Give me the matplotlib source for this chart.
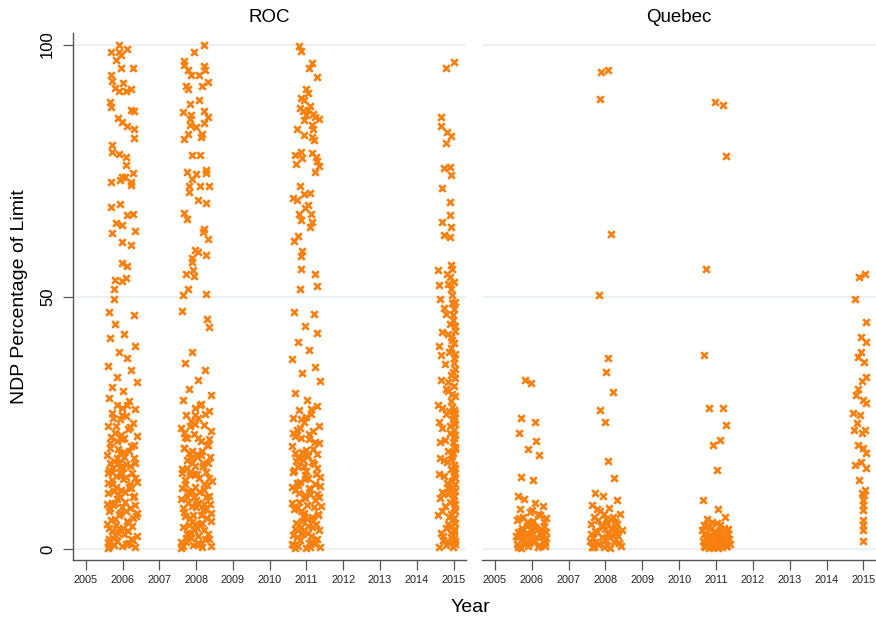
import matplotlib
matplotlib.use("Agg")
import matplotlib.pyplot as plt

plt.rcParams['font.family'] = ['Liberation Sans', 'DejaVu Sans']

# ---------------- data (year, NDP percentage of limit) ----------------

panel_names = ["ROC", "Quebec"]
year_ticks = [2005, 2006, 2007, 2008, 2009, 2010, 2011, 2012, 2013, 2014, 2015]
pct_ticks = [0, 50, 100]

roc_2006 = [
    (2005.90, 100.0), (2006.11, 99.1), (2005.68, 98.5), (2005.90, 98.5), (2005.95, 98.0),
    (2005.83, 96.9), (2005.95, 95.4), (2006.29, 95.4), (2005.68, 94.0), (2005.70, 92.7),
    (2006.02, 92.4), (2005.79, 91.4), (2005.90, 90.7), (2006.08, 90.7), (2006.22, 91.1),
    (2005.66, 88.7), (2005.68, 87.7), (2006.22, 87.1), (2006.31, 86.8), (2005.88, 85.4),
    (2005.97, 84.6), (2006.13, 83.8), (2006.31, 83.3), (2006.31, 81.4), (2005.72, 80.1),
    (2005.72, 78.8), (2005.90, 78.3), (2006.08, 77.8), (2006.10, 76.1), (2006.29, 74.6),
    (2005.68, 72.8), (2005.93, 73.2), (2005.97, 73.8), (2006.06, 73.7), (2006.22, 72.8),
    (2006.22, 72.2), (2005.68, 67.7), (2005.92, 68.4), (2006.13, 66.3), (2006.29, 66.5),
    (2005.81, 64.6), (2005.99, 64.2), (2005.70, 62.7), (2006.33, 63.1), (2005.99, 60.9),
    (2006.22, 60.3), (2005.99, 56.7), (2006.11, 56.1), (2005.79, 53.3), (2005.99, 53.1),
    (2006.09, 53.7), (2005.77, 51.6), (2005.77, 49.6),
    (2005.62, 47.0), (2006.30, 46.3), (2005.80, 44.5), (2006.05, 42.6), (2005.66, 41.8),
    (2006.35, 40.2), (2005.90, 39.0), (2006.12, 37.8), (2005.60, 36.2), (2006.24, 35.4),
    (2005.84, 34.1), (2006.38, 33.0), (2005.72, 32.2), (2006.00, 31.3), (2005.64, 30.0),
    (2006.18, 29.4), (2005.86, 28.6), (2006.34, 27.8), (2005.70, 27.0), (2006.08, 26.4),
    (2005.94, 25.7), (2006.28, 25.0), (2005.60, 24.3), (2006.14, 23.7), (2005.78, 23.0),
    (2006.40, 22.4), (2005.98, 21.8), (2005.66, 21.0), (2006.22, 20.5), (2005.88, 19.9),
    (2006.04, 19.2), (2005.58, 18.6), (2006.32, 18.0), (2005.76, 17.5), (2006.10, 16.9),
    (2005.92, 16.2), (2005.62, 15.6), (2006.26, 15.1), (2005.82, 14.5), (2006.02, 13.9),
    (2006.38, 13.3), (2005.70, 12.8), (2006.16, 12.2), (2005.96, 11.6), (2005.60, 11.0),
    (2006.30, 10.5), (2005.84, 9.9), (2006.06, 9.4), (2005.74, 8.8), (2006.20, 8.2),
    (2005.64, 7.6), (2005.94, 7.1), (2006.36, 6.6), (2005.80, 6.0), (2006.12, 5.5),
    (2005.58, 5.0), (2006.26, 4.5), (2005.90, 4.0), (2005.70, 3.5), (2006.04, 3.0),
    (2006.40, 2.5), (2005.62, 2.0), (2005.86, 1.6), (2006.18, 1.2), (2005.76, 0.8),
    (2006.34, 0.4), (2005.60, 0.2), (2005.98, 0.5), (2006.28, 1.8), (2005.68, 5.8),
    (2005.88, 10.8), (2006.10, 14.2), (2005.66, 17.0), (2005.96, 22.6), (2005.74, 26.0),
    (2006.24, 12.0), (2005.78, 2.8), (2006.08, 7.6), (2005.60, 13.0), (2005.92, 19.0),
    (2005.70, 9.2), (2006.14, 3.6), (2005.84, 21.4), (2006.00, 16.0), (2005.64, 4.2),
    (2005.82, 12.3), (2006.20, 24.2), (2005.98, 28.0), (2005.72, 15.3), (2006.34, 8.7),
    (2005.59, 1.4), (2005.73, 2.2), (2005.87, 3.2), (2006.01, 4.2), (2006.15, 5.2),
    (2006.29, 6.2), (2006.39, 7.2), (2005.65, 8.2), (2005.79, 9.2), (2005.93, 10.2),
    (2006.07, 11.2), (2006.21, 12.8), (2006.35, 14.0), (2005.61, 15.0), (2005.75, 16.0),
    (2005.89, 17.0), (2006.03, 18.2), (2006.17, 19.4), (2006.31, 20.6), (2005.69, 22.2),
    (2005.83, 24.4), (2005.97, 26.6), (2006.11, 28.6), (2005.63, 0.6), (2005.81, 4.8),
    (2005.99, 8.4), (2006.13, 1.0), (2006.27, 10.2), (2005.71, 13.6), (2005.85, 18.0),
    (2006.19, 16.4), (2005.95, 14.8), (2006.05, 22.0), (2005.67, 20.0), (2006.33, 17.0),
    (2005.91, 6.8), (2006.09, 0.9), (2005.77, 11.4), (2006.23, 2.0), (2005.57, 9.0),
]

roc_2008 = [
    (2008.22, 100.0), (2007.93, 98.5), (2007.66, 96.7), (2007.67, 96.0), (2007.78, 94.9),
    (2007.85, 94.0), (2008.08, 94.0), (2008.21, 95.7), (2008.24, 94.9), (2007.72, 91.8),
    (2007.77, 91.1), (2008.17, 91.8), (2008.31, 92.5), (2007.83, 88.3), (2008.08, 89.1),
    (2007.65, 86.6), (2007.86, 86.1), (2007.84, 85.3), (2008.22, 86.8), (2008.33, 85.7),
    (2007.84, 84.0), (2008.00, 83.6), (2008.22, 84.4), (2007.78, 82.2), (2007.67, 81.3),
    (2008.15, 82.3), (2008.13, 81.6), (2007.88, 78.1), (2008.10, 78.1), (2007.74, 74.8),
    (2007.99, 74.4), (2008.26, 75.1), (2008.26, 74.5), (2007.90, 73.3), (2007.81, 71.9),
    (2008.10, 72.0), (2008.35, 72.0), (2007.81, 70.7), (2008.04, 69.1), (2008.26, 68.5),
    (2007.67, 66.7), (2007.74, 65.5), (2008.22, 63.4), (2008.18, 62.8), (2008.33, 61.4),
    (2007.97, 59.2), (2008.06, 58.9), (2008.28, 58.2), (2007.90, 57.6), (2007.90, 56.9),
    (2007.72, 54.5), (2007.91, 55.3), (2007.93, 54.1), (2007.78, 51.6), (2007.65, 50.3),
    (2008.28, 50.6),
    (2007.62, 47.2), (2008.30, 45.5), (2008.36, 44.0), (2007.90, 39.0), (2007.70, 36.8),
    (2008.24, 35.5), (2008.06, 33.4), (2007.80, 31.8), (2008.40, 30.6), (2007.64, 29.5),
    (2008.14, 28.8), (2007.96, 28.0), (2008.34, 27.3), (2007.72, 26.6), (2008.04, 26.0),
    (2007.86, 25.3), (2008.22, 24.6), (2007.60, 24.0), (2008.40, 23.3), (2007.94, 22.7),
    (2007.76, 22.0), (2008.12, 21.4), (2008.30, 20.7), (2007.66, 20.1), (2007.88, 19.5),
    (2008.02, 18.8), (2008.38, 18.2), (2007.74, 17.6), (2008.18, 17.0), (2007.96, 16.4),
    (2007.62, 15.8), (2008.26, 15.2), (2007.84, 14.6), (2008.08, 14.0), (2008.42, 13.4),
    (2007.70, 12.8), (2007.98, 12.2), (2008.20, 11.6), (2007.80, 11.0), (2008.34, 10.4),
    (2007.60, 9.8), (2008.06, 9.2), (2007.90, 8.6), (2008.28, 8.0), (2007.68, 7.4),
    (2008.14, 6.8), (2007.84, 6.2), (2008.40, 5.6), (2007.96, 5.0), (2007.64, 4.4),
    (2008.22, 3.8), (2007.78, 3.2), (2008.04, 2.6), (2008.34, 2.0), (2007.72, 1.4),
    (2007.92, 0.8), (2008.16, 0.3), (2007.60, 0.2), (2008.40, 0.5), (2007.86, 2.2),
    (2008.10, 4.8), (2007.70, 6.6), (2008.00, 9.6), (2008.30, 12.6), (2007.82, 15.2),
    (2008.12, 18.6), (2007.66, 23.0), (2008.24, 26.8), (2007.94, 3.8), (2008.18, 7.8),
    (2007.76, 10.2), (2008.06, 1.2), (2007.88, 5.4), (2008.32, 3.0), (2007.62, 12.0),
    (2008.02, 14.8), (2007.80, 19.0), (2008.36, 21.8), (2007.98, 24.8), (2007.90, 11.4),
    (2008.20, 9.0), (2007.74, 3.0),
    (2007.59, 1.4), (2007.73, 2.2), (2007.87, 3.2), (2008.01, 4.2), (2008.15, 5.2),
    (2008.29, 6.2), (2008.41, 7.2), (2007.65, 8.2), (2007.79, 9.2), (2007.93, 10.2),
    (2008.07, 11.2), (2008.21, 12.8), (2008.35, 14.0), (2007.61, 15.0), (2007.75, 16.0),
    (2007.89, 17.0), (2008.03, 18.2), (2008.17, 19.4), (2008.31, 20.6), (2007.69, 22.2),
    (2007.83, 24.4), (2007.97, 26.6), (2008.11, 28.6), (2007.63, 0.6), (2007.81, 4.8),
    (2007.99, 8.4), (2008.13, 1.0), (2008.27, 10.2), (2007.71, 13.6), (2007.85, 18.0),
    (2008.19, 16.4), (2007.95, 14.8), (2008.05, 22.0), (2007.67, 20.0), (2008.33, 17.0),
    (2007.91, 6.8), (2008.09, 0.9), (2007.77, 11.4), (2008.23, 2.0), (2008.39, 9.0),
]

roc_2011 = [
    (2010.81, 99.7), (2010.85, 98.7), (2011.15, 96.4), (2011.07, 95.4), (2011.28, 93.6),
    (2010.98, 91.2), (2011.03, 90.4), (2010.85, 89.4), (2010.93, 89.1), (2011.10, 87.9),
    (2010.83, 87.4), (2010.90, 86.8), (2011.04, 87.1), (2010.99, 86.1), (2011.17, 86.3),
    (2010.93, 85.1), (2011.22, 85.6), (2011.35, 85.2), (2011.14, 84.1), (2010.74, 83.2),
    (2011.17, 83.2), (2010.93, 82.1), (2011.15, 81.6), (2011.21, 81.1), (2010.69, 78.1),
    (2010.85, 78.8), (2010.88, 77.5), (2010.72, 76.3), (2011.14, 78.5), (2011.26, 77.8),
    (2011.28, 77.0), (2011.33, 75.9), (2011.24, 74.8), (2010.83, 72.0), (2010.93, 70.4),
    (2011.10, 70.6), (2010.63, 69.5), (2010.74, 69.2), (2011.03, 68.2), (2010.96, 67.5),
    (2011.12, 66.4), (2010.79, 66.5), (2010.86, 65.2), (2011.15, 64.9), (2011.10, 63.9),
    (2010.78, 62.0), (2010.65, 61.1), (2010.88, 59.1), (2010.85, 58.1), (2010.86, 55.6),
    (2011.22, 54.6), (2010.83, 51.6), (2011.30, 52.1),
    (2010.66, 47.0), (2011.20, 46.6), (2010.96, 44.2), (2011.30, 42.8), (2010.76, 41.0),
    (2011.06, 39.4), (2010.62, 37.6), (2011.24, 36.0), (2010.88, 34.8), (2011.36, 33.2),
    (2010.70, 31.0), (2011.02, 29.6), (2011.28, 28.4), (2010.80, 27.6), (2011.12, 26.8),
    (2010.64, 26.0), (2010.94, 25.2), (2011.34, 24.4), (2010.74, 23.6), (2011.08, 22.8),
    (2010.86, 22.0), (2011.22, 21.2), (2010.62, 20.4), (2011.00, 19.6), (2011.30, 18.8),
    (2010.78, 18.0), (2011.14, 17.2), (2010.92, 16.4), (2010.66, 15.6), (2011.26, 14.8),
    (2011.04, 14.0), (2010.82, 13.2), (2011.36, 12.4), (2010.70, 11.6), (2011.10, 10.8),
    (2010.96, 10.0), (2010.62, 9.2), (2011.20, 8.4), (2010.84, 7.6), (2011.32, 6.8),
    (2011.02, 6.0), (2010.72, 5.2), (2011.16, 4.4), (2010.90, 3.6), (2010.64, 2.8),
    (2011.28, 2.0), (2011.06, 1.2), (2010.78, 0.6), (2010.98, 0.2), (2011.38, 0.4),
    (2010.68, 0.2), (2011.12, 2.6), (2010.88, 5.6), (2011.24, 9.6), (2010.76, 12.6),
    (2011.00, 15.4), (2010.70, 19.0), (2011.18, 23.4), (2010.94, 7.2), (2011.34, 10.2),
    (2010.82, 1.8), (2011.08, 12.0), (2010.64, 23.0), (2010.92, 18.6), (2011.28, 16.0),
    (2010.74, 8.2), (2011.04, 3.2), (2010.86, 25.8), (2011.14, 6.4), (2010.96, 13.8),
    (2010.68, 4.0), (2011.22, 1.0),
    (2010.61, 1.0), (2010.75, 2.4), (2010.89, 3.0), (2011.03, 4.6), (2011.17, 5.6),
    (2011.31, 7.0), (2010.67, 8.0), (2010.81, 9.4), (2010.95, 10.6), (2011.09, 11.8),
    (2011.23, 12.8), (2011.37, 14.2), (2010.63, 15.2), (2010.77, 16.2), (2010.91, 17.6),
    (2011.05, 18.4), (2011.19, 19.8), (2011.33, 21.0), (2010.69, 22.4), (2010.83, 24.0),
    (2010.99, 26.2), (2011.13, 27.8), (2010.65, 0.8), (2010.85, 4.4), (2011.01, 8.8),
    (2011.15, 1.4), (2011.29, 10.8), (2010.73, 13.0), (2010.87, 19.2), (2011.21, 16.8),
    (2010.97, 14.6), (2011.07, 21.8), (2010.71, 17.4), (2011.35, 3.8), (2010.93, 6.6),
    (2011.11, 0.4), (2010.79, 11.0), (2011.25, 5.0), (2011.39, 8.6), (2010.61, 12.2),
]

roc_2015 = [
    (2014.80, 95.4), (2015.02, 96.6), (2014.65, 85.6), (2014.67, 83.9), (2014.83, 82.6),
    (2014.92, 81.9), (2014.79, 80.5), (2014.75, 75.5), (2014.90, 75.8), (2014.92, 74.2),
    (2014.68, 71.5), (2014.90, 68.8), (2014.90, 66.2), (2014.68, 64.9), (2014.92, 63.9),
    (2014.75, 62.2), (2014.90, 61.9), (2014.92, 56.3), (2014.58, 55.3), (2014.83, 54.6),
    (2014.90, 53.9), (2014.61, 52.3), (2014.86, 52.6), (2014.92, 51.6),
    (2014.62, 49.5), (2014.96, 48.8), (2015.02, 47.5), (2014.80, 46.6), (2014.98, 45.4),
    (2015.04, 44.2), (2014.70, 43.0), (2014.94, 42.0), (2015.02, 40.8), (2014.60, 40.2),
    (2014.88, 39.0), (2015.00, 37.8), (2014.76, 36.6), (2015.04, 35.6), (2014.92, 34.4),
    (2014.66, 33.4), (2015.00, 32.4), (2014.84, 31.4), (2015.04, 30.4), (2014.94, 29.4),
    (2014.58, 28.6), (2015.02, 27.6), (2014.80, 26.8), (2014.98, 25.8), (2015.04, 24.8),
    (2014.70, 24.0), (2014.90, 23.0), (2015.00, 22.0), (2014.62, 21.2), (2015.04, 20.2),
    (2014.86, 19.4), (2014.96, 18.4), (2014.74, 17.6), (2015.02, 16.6), (2014.92, 15.8),
    (2014.60, 14.8), (2015.04, 14.0), (2014.82, 13.0), (2014.98, 12.2), (2014.68, 11.2),
    (2015.02, 10.4), (2014.90, 9.4), (2014.76, 8.6), (2015.04, 7.6), (2014.58, 6.8),
    (2014.96, 5.8), (2014.86, 5.0), (2015.02, 4.0), (2014.66, 3.2), (2014.92, 2.4),
    (2015.04, 1.6), (2014.80, 0.8), (2014.98, 0.3), (2014.60, 0.4), (2014.72, 1.8),
    (2015.00, 3.6), (2014.88, 6.4), (2015.04, 9.0), (2014.64, 10.0), (2014.94, 11.8),
    (2015.00, 15.2), (2014.78, 21.6), (2015.02, 23.6), (2014.96, 28.2), (2014.86, 33.0),
    (2015.02, 36.8), (2014.94, 39.8), (2014.90, 44.6), (2014.72, 2.6), (2015.00, 6.2),
    (2014.84, 10.8), (2014.98, 19.0), (2014.70, 28.0), (2015.04, 12.8), (2014.94, 4.6),
    (2015.02, 2.2), (2014.82, 17.2), (2014.98, 26.4),
    (2015.03, 0.9), (2014.97, 2.9), (2015.05, 5.2), (2014.93, 7.0), (2015.01, 8.2),
    (2014.99, 9.8), (2015.05, 11.4), (2014.95, 13.4), (2015.01, 14.6), (2015.05, 16.0),
    (2014.93, 17.8), (2015.03, 19.8), (2014.99, 21.2), (2015.05, 22.6), (2014.91, 24.4),
    (2015.01, 25.4), (2015.05, 27.0), (2014.97, 30.8), (2015.03, 33.8), (2014.99, 35.0),
    (2015.05, 38.6), (2014.97, 41.4), (2015.03, 43.2), (2014.99, 46.4), (2015.05, 49.0),
    (2014.87, 1.2), (2014.79, 4.2), (2014.69, 7.6), (2014.85, 12.0), (2014.75, 14.4),
    (2014.63, 18.0), (2014.89, 27.4), (2014.79, 31.8), (2014.67, 38.4), (2014.85, 42.6),
    (2014.73, 47.8), (2014.61, 25.2), (2014.95, 50.4), (2015.01, 53.0), (2014.97, 55.6),
]

qc_2006 = [
    (2005.82, 33.4), (2005.98, 32.8), (2005.70, 26.0), (2006.08, 25.2), (2005.66, 23.0),
    (2006.12, 21.4), (2005.90, 19.8), (2006.20, 18.6), (2005.72, 14.2), (2006.04, 13.6),
    (2005.62, 10.4), (2005.80, 9.8), (2006.10, 9.2), (2006.30, 8.6), (2005.68, 8.0),
    (2005.94, 7.4), (2006.22, 6.8), (2006.38, 6.2), (2005.60, 5.8), (2005.86, 5.4),
    (2006.02, 5.0), (2006.34, 4.6), (2005.74, 4.2), (2006.14, 3.8), (2005.64, 3.4),
    (2005.96, 3.0), (2006.26, 2.6), (2006.40, 2.2), (2005.78, 1.8), (2006.06, 1.4),
    (2005.60, 1.0), (2005.90, 0.6), (2006.18, 0.3), (2006.36, 0.5), (2005.70, 0.2),
    (2006.30, 1.6), (2005.84, 2.8), (2006.10, 4.4), (2005.66, 6.2), (2006.00, 7.8),
    (2006.24, 4.0), (2005.76, 3.0), (2005.92, 1.2), (2006.38, 3.4), (2005.62, 2.4),
    (2005.64, 0.4), (2005.80, 0.9), (2005.96, 1.9), (2006.12, 2.3), (2006.28, 3.2),
    (2005.72, 3.6), (2005.88, 4.6), (2006.04, 5.6), (2006.20, 0.8), (2006.36, 1.2),
    (2005.58, 2.6), (2005.76, 6.4), (2006.16, 7.0), (2005.98, 4.0), (2006.32, 5.4),
]

qc_2008 = [
    (2007.88, 94.6), (2008.08, 95.0), (2007.86, 89.2), (2008.14, 62.4), (2007.82, 50.4),
    (2008.06, 37.8), (2008.02, 35.0), (2008.20, 31.2), (2007.84, 27.6), (2008.00, 25.2),
    (2008.06, 17.4), (2008.22, 14.0), (2007.72, 11.0), (2007.94, 10.4), (2008.30, 9.6),
    (2007.64, 8.8), (2008.10, 8.2), (2007.86, 7.6), (2008.40, 7.0), (2007.70, 6.4),
    (2008.02, 6.0), (2008.26, 5.4), (2007.62, 5.0), (2007.92, 4.6), (2008.16, 4.2),
    (2008.44, 3.8), (2007.76, 3.4), (2008.06, 3.0), (2008.34, 2.6), (2007.66, 2.2),
    (2007.98, 1.8), (2008.22, 1.4), (2007.82, 1.0), (2008.42, 0.6), (2007.70, 0.3),
    (2008.12, 0.2), (2007.90, 2.4), (2008.28, 4.0), (2007.60, 3.0), (2008.04, 5.2),
    (2007.80, 5.8), (2008.36, 1.2), (2007.96, 7.0), (2008.18, 2.8), (2007.72, 1.4),
    (2007.64, 0.4), (2007.80, 0.9), (2007.96, 0.4), (2008.12, 2.3), (2008.28, 3.2),
    (2007.72, 3.6), (2007.88, 4.6), (2008.04, 0.8), (2008.20, 6.4), (2008.36, 1.2),
    (2007.58, 1.6), (2007.76, 8.0), (2008.16, 5.8), (2007.98, 4.0), (2008.32, 5.0),
]

qc_2011 = [
    (2010.98, 88.6), (2011.20, 88.0), (2011.28, 78.0), (2010.73, 55.6), (2010.68, 38.5),
    (2010.82, 28.0), (2011.18, 28.0), (2010.92, 20.6), (2011.12, 21.6), (2011.02, 15.6),
    (2011.26, 24.6), (2010.64, 9.7), (2011.06, 7.9), (2011.24, 6.4), (2010.66, 4.8),
    (2011.02, 5.2), (2010.72, 4.4), (2010.84, 4.0), (2010.96, 3.6), (2011.14, 3.8),
    (2011.32, 4.0), (2010.68, 3.0), (2010.78, 2.6), (2010.90, 2.2), (2011.04, 2.8),
    (2011.20, 2.4), (2011.36, 2.0), (2010.64, 1.6), (2010.74, 1.2), (2010.86, 0.8),
    (2010.98, 1.4), (2011.10, 1.0), (2011.26, 0.6), (2010.70, 0.3), (2010.82, 0.2),
    (2010.94, 0.4), (2011.06, 0.2), (2011.16, 0.3), (2011.30, 0.5), (2010.80, 1.8),
    (2011.12, 1.8), (2011.00, 3.2), (2010.88, 5.4), (2011.28, 2.8), (2010.76, 6.0),
    (2010.66, 0.6), (2010.78, 1.4), (2010.90, 0.4), (2011.02, 1.2), (2011.14, 0.6),
    (2011.26, 1.6), (2011.38, 1.0), (2010.72, 2.0), (2010.84, 2.8), (2010.96, 2.4),
    (2011.08, 3.4), (2011.18, 2.0), (2011.32, 3.0), (2010.62, 3.8), (2010.80, 4.6),
    (2011.10, 4.8), (2011.22, 4.2), (2010.92, 1.0), (2011.04, 0.3), (2010.70, 1.2),
]

qc_2015 = [
    (2014.88, 54.0), (2015.04, 54.6), (2014.78, 49.6), (2014.94, 42.0), (2015.06, 41.0),
    (2014.84, 38.0), (2014.96, 33.2), (2015.06, 34.0), (2014.80, 30.6), (2014.98, 29.6),
    (2015.08, 29.0), (2014.90, 26.6), (2014.74, 23.6), (2014.96, 23.0), (2015.04, 23.6),
    (2014.84, 20.6), (2015.00, 20.0), (2014.76, 16.6), (2014.92, 17.2), (2015.08, 16.0),
    (2014.88, 13.7), (2015.04, 11.7), (2014.96, 11.0), (2015.00, 9.7), (2015.00, 7.7),
    (2015.00, 5.7), (2015.00, 3.8), (2014.98, 1.6), (2015.00, 4.8), (2015.00, 8.8),
    (2015.02, 10.6), (2014.72, 27.0), (2015.02, 37.0), (2014.86, 31.8), (2015.06, 45.0),
    (2014.92, 39.0), (2015.08, 19.0), (2014.82, 25.0),
]

panel_points = [
    roc_2006 + roc_2008 + roc_2011 + roc_2015,
    qc_2006 + qc_2008 + qc_2011 + qc_2015,
]

# ---------------- figure ----------------

W, H = 876, 620
fig = plt.figure(figsize=(W / 100, H / 100), dpi=100)

marker_color = '#f7800f'
grid_color = '#e6edf1'
axis_color = '#555555'

# panel boxes in pixels: left, right, top, bottom
boxes = [(73, 466, 33, 560), (482, 876, 33, 560)]

for i, (name, pts) in enumerate(zip(panel_names, panel_points)):
    l, r, t, b = boxes[i]
    ax = fig.add_axes([l / W, (H - b) / H, (r - l) / W, (b - t) / H])
    ax.set_xlim(2004.65, 2015.34)
    ax.set_ylim(-2.2, 102.3)

    for v in pct_ticks:
        ax.axhline(v, color=grid_color, lw=1.2, zorder=0)

    xs = [p[0] for p in pts]
    ys = [p[1] for p in pts]
    ax.scatter(xs, ys, marker='x', s=23, linewidths=1.9, color=marker_color, zorder=3)

    for side in ['top', 'right']:
        ax.spines[side].set_visible(False)
    ax.spines['bottom'].set_color(axis_color)
    ax.spines['bottom'].set_linewidth(1.0)

    ax.set_xticks(year_ticks)
    ax.set_xticklabels([str(y) for y in year_ticks], fontsize=7.8, color='#222222')
    ax.tick_params(axis='x', length=7, width=0.9, color=axis_color, pad=4)

    if i == 0:
        ax.spines['left'].set_color(axis_color)
        ax.spines['left'].set_linewidth(1.0)
        ax.set_yticks(pct_ticks)
        ax.set_yticklabels([str(v) for v in pct_ticks], fontsize=12, rotation=90, va='center')
        ax.tick_params(axis='y', length=7, width=0.9, color=axis_color, pad=6)
    else:
        ax.spines['left'].set_visible(False)
        ax.set_yticks([])

    fig.text((l + r) / 2 / W, 1 - 18 / H, name, ha='center', va='center', fontsize=13.5)

fig.text(20 / W, 1 - 297 / H, 'NDP Percentage of Limit', rotation=90,
         ha='center', va='center', fontsize=14)
fig.text(470 / W, 1 - 607 / H, 'Year', ha='center', va='center', fontsize=14)

fig.savefig('out.png', dpi=100)
